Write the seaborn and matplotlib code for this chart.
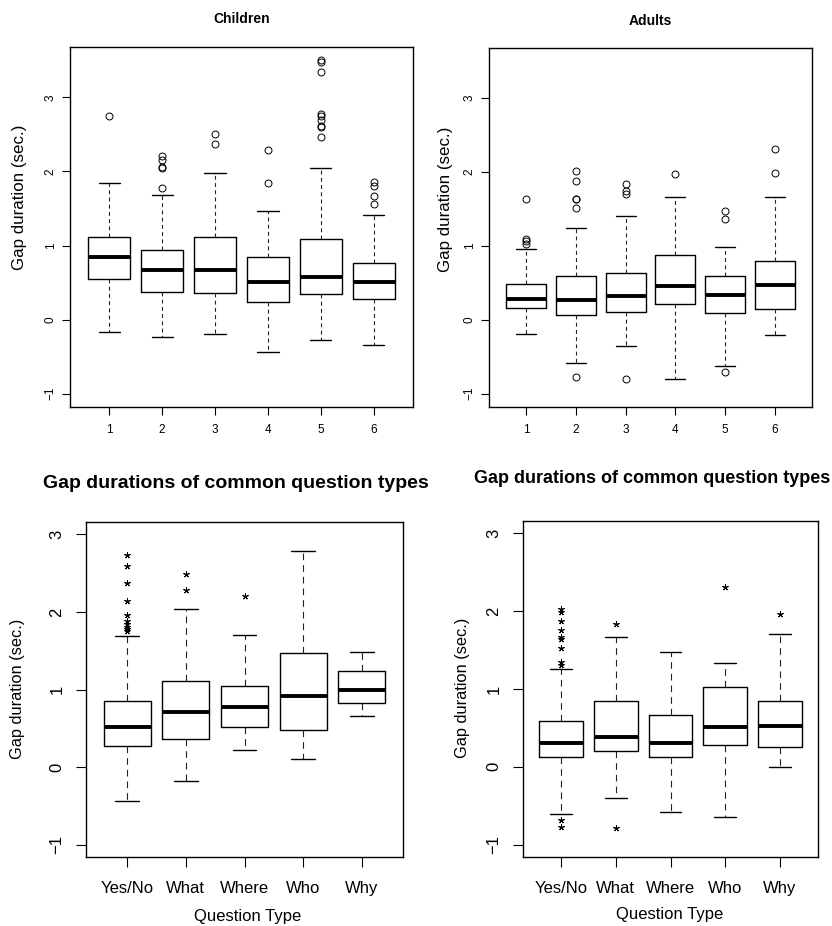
import matplotlib
matplotlib.use("Agg")
import matplotlib.pyplot as plt
import seaborn as sns

# --- Box summaries (seconds) ---
groups_num = ["1", "2", "3", "4", "5", "6"]
qtypes = ["Yes/No", "What", "Where", "Who", "Why"]

child_med = [0.84, 0.67, 0.67, 0.51, 0.58, 0.51]
child_q1 = [0.55, 0.37, 0.36, 0.24, 0.34, 0.28]
child_q3 = [1.12, 0.94, 1.11, 0.84, 1.09, 0.77]
child_lo = [-0.17, -0.24, -0.20, -0.44, -0.27, -0.34]
child_hi = [1.84, 1.68, 1.98, 1.46, 2.04, 1.41]
child_out = [
    [2.75],
    [1.78, 2.04, 2.06, 2.15, 2.21],
    [2.37, 2.51],
    [1.85, 2.29],
    [2.47, 2.60, 2.62, 2.70, 2.75, 2.78, 3.34, 3.48, 3.50],
    [1.56, 1.67, 1.80, 1.86],
]

adult_med = [0.28, 0.27, 0.32, 0.46, 0.34, 0.47]
adult_q1 = [0.16, 0.07, 0.10, 0.21, 0.09, 0.15]
adult_q3 = [0.49, 0.60, 0.63, 0.88, 0.59, 0.79]
adult_lo = [-0.19, -0.59, -0.36, -0.80, -0.62, -0.21]
adult_hi = [0.96, 1.25, 1.41, 1.66, 0.99, 1.66]
adult_out = [
    [1.03, 1.07, 1.10, 1.64],
    [-0.78, 1.52, 1.63, 1.64, 1.88, 2.02],
    [-0.80, 1.70, 1.75, 1.84],
    [1.97],
    [-0.70, 1.36, 1.47],
    [1.99, 2.31],
]

qchild_med = [0.52, 0.71, 0.77, 0.92, 1.00]
qchild_q1 = [0.27, 0.36, 0.51, 0.48, 0.83]
qchild_q3 = [0.85, 1.11, 1.04, 1.47, 1.24]
qchild_lo = [-0.44, -0.18, 0.22, 0.11, 0.66]
qchild_hi = [1.69, 2.04, 1.70, 2.78, 1.49]
qchild_out = [
    [1.76, 1.78, 1.80, 1.84, 1.88, 1.96, 2.14, 2.37, 2.59, 2.73],
    [2.28, 2.49],
    [2.20],
    [],
    [],
]

qadult_med = [0.30, 0.38, 0.30, 0.51, 0.53]
qadult_q1 = [0.12, 0.20, 0.12, 0.28, 0.25]
qadult_q3 = [0.59, 0.84, 0.67, 1.02, 0.85]
qadult_lo = [-0.61, -0.40, -0.58, -0.64, 0.00]
qadult_hi = [1.26, 1.67, 1.47, 1.33, 1.71]
qadult_out = [
    [-0.78, -0.69, 1.31, 1.35, 1.53, 1.64, 1.67, 1.76, 1.88, 1.99, 2.03],
    [-0.79, 1.84],
    [],
    [2.31],
    [1.97],
]


def make_stats(labels, med, q1, q3, lo, hi, out):
    return [dict(label=l, med=m, q1=a, q3=b, whislo=w0, whishi=w1, fliers=f)
            for l, m, a, b, w0, w1, f in zip(labels, med, q1, q3, lo, hi, out)]


sns.set_style("ticks")
plt.rcParams["font.family"] = ["Liberation Sans", "DejaVu Sans"]
plt.rcParams.update({"text.color": "black", "axes.labelcolor": "black",
                     "xtick.color": "black", "ytick.color": "black"})

fig = plt.figure(figsize=(8.32, 9.26), dpi=100)

# axes rectangles in pixel coords (left, top, right, bottom)
W, H = 832, 926


def add_ax(l, t, r, b):
    return fig.add_axes([l / W, 1 - b / H, (r - l) / W, (b - t) / H])


panels = [
    (add_ax(70, 47, 413, 407), make_stats(groups_num, child_med, child_q1, child_q3,
                                          child_lo, child_hi, child_out), "o", "top"),
    (add_ax(489, 48, 812, 407), make_stats(groups_num, adult_med, adult_q1, adult_q3,
                                           adult_lo, adult_hi, adult_out), "o", "top"),
    (add_ax(86, 522, 403, 857), make_stats(qtypes, qchild_med, qchild_q1, qchild_q3,
                                           qchild_lo, qchild_hi, qchild_out), "*", "bottom"),
    (add_ax(523, 521, 818, 857), make_stats(qtypes, qadult_med, qadult_q1, qadult_q3,
                                            qadult_lo, qadult_hi, qadult_out), "*", "bottom"),
]

for ax, stats, flier, row in panels:
    n = len(stats)
    if flier == "o":
        fprops = dict(marker="o", markerfacecolor="none", markeredgecolor="black",
                      markersize=5, markeredgewidth=0.7)
        dash = (0, (3.5, 3))
    else:
        fprops = dict(marker=(5, 2, 0), markeredgecolor="black", markerfacecolor="black",
                      markersize=4.5, markeredgewidth=0.7)
        dash = (0, (6, 4.5))
    ax.bxp(stats, positions=range(1, n + 1), widths=0.8, capwidths=0.4,
           boxprops=dict(color="black", linewidth=1.0),
           whiskerprops=dict(color="#222222", linewidth=0.8, linestyle=dash),
           capprops=dict(color="black", linewidth=1.0),
           medianprops=dict(color="black", linewidth=2.8, solid_capstyle="butt"),
           flierprops=fprops)

    ax.set_xlim(0.5 - 0.04 * n, n + 0.5 + 0.04 * n)
    for s in ax.spines.values():
        s.set_color("black")
        s.set_linewidth(1.0)
    ax.set_facecolor("white")
    ax.grid(False)

    if row == "top":
        ax.set_ylim(-1.18, 3.68)
        ax.set_yticks([-1, 0, 1, 2, 3])
        ax.tick_params(axis="both", length=5.5, width=0.8, labelsize=8.5)
        ax.tick_params(axis="y", pad=4)
        ax.tick_params(axis="x", pad=7)
    else:
        ax.set_ylim(-1.16, 3.16)
        ax.set_yticks([-1, 0, 1, 2, 3])
        ax.tick_params(axis="both", length=7.5, width=0.8, labelsize=12)
        ax.tick_params(axis="y", pad=8)
        ax.tick_params(axis="x", pad=10)
    for t in ax.get_yticklabels():
        t.set_rotation(90)
        t.set_va("center")

# titles and axis labels placed where the original puts them
fig.text(242 / W, 1 - 19 / H, "Children", ha="center", va="center",
         fontsize=10, fontweight="bold")
fig.text(650 / W, 1 - 21 / H, "Adults", ha="center", va="center",
         fontsize=10, fontweight="bold")
fig.text(236 / W, 1 - 483 / H, "Gap durations of common question types",
         ha="center", va="center", fontsize=14, fontweight="bold")
fig.text(652 / W, 1 - 478 / H, "Gap durations of common question types",
         ha="center", va="center", fontsize=13, fontweight="bold")

for x, y, fs in [(20, 197, 12.2), (445, 199, 12.2), (18, 689, 11.8), (462, 688, 11.8)]:
    fig.text(x / W, 1 - y / H, "Gap duration (sec.)", rotation=90,
             ha="center", va="center", fontsize=fs)

fig.text(248 / W, 1 - 917 / H, "Question Type", ha="center", va="center", fontsize=12)
fig.text(670 / W, 1 - 915 / H, "Question Type", ha="center", va="center", fontsize=12)

plt.savefig("out.png", dpi=100, facecolor="white")
